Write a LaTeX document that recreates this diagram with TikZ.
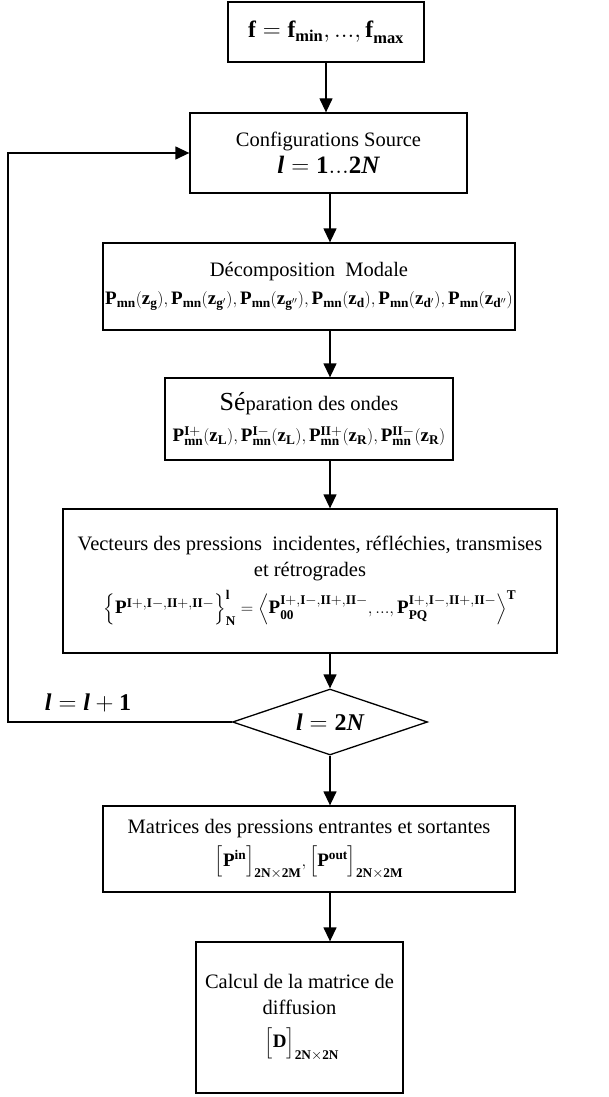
\documentclass[tikz,border=0pt]{standalone}
\usepackage{amsmath}
\usepackage{fontspec}
\setmainfont{Liberation Serif}
\setmathrm{Liberation Serif}
\usetikzlibrary{arrows.meta,shapes.geometric}
\newcommand\bi[1]{\text{\bfseries\itshape #1}}
\newcommand\mth{\fontsize{19}{23}\selectfont}
\begin{document}
\begin{tikzpicture}[x=1pt,y=-1pt,
  box/.style={draw, line width=1.3pt, align=center, inner sep=0pt, font=\fontsize{20.5}{26}\selectfont},
  arr/.style={line width=1.3pt, -{Triangle[length=14pt,width=13pt]}},
  bigmath/.style={font=\fontsize{24}{26}\selectfont}]
\path[use as bounding box] (0,0) rectangle (608,1097);

\node[box, minimum width=196pt, minimum height=60pt, font=\fontsize{23.5}{26}\selectfont] (b1) at (326,32)
  {$\mathbf{f}=\mathbf{f}_{\mathbf{min}}\mathbf{,...,f}_{\mathbf{max}}$};

\node[box, minimum width=277pt, minimum height=80pt] (b2) at (328.5,153)
  {Configurations Source\\[1pt]
   {\fontsize{25}{26}\selectfont $\bi{l} = \mathbf{1...2}\bi{N}$}};

\node[box, minimum width=412pt, minimum height=87pt] (b3) at (309,286.5)
  {D\'ecomposition\ \ Modale\\[2pt]
   {\mth$\mathbf{P_{mn}(z_g),P_{mn}(z_{g'}),P_{mn}(z_{g''}),P_{mn}(z_d),P_{mn}(z_{d'}),P_{mn}(z_{d''})}$}};

\node[box, minimum width=288pt, minimum height=82pt] (b4) at (309,419)
  {{\fontsize{26}{26}\selectfont S\'e}paration des ondes\\[5pt]
   {\mth$\mathbf{P^{I+}_{mn}(z_L),P^{I-}_{mn}(z_L),P^{II+}_{mn}(z_R),P^{II-}_{mn}(z_R)}$}};

\node[box, minimum width=494pt, minimum height=144pt] (b5) at (310,581)
  {Vecteurs des pressions\ \ incidentes, r\'efl\'echies, transmises\\
   et r\'etrogrades\\[8pt]
   {\mth$\Big\{\mathbf{P^{I+,I-,II+,II-}}\Big\}^{\mathbf{l}}_{\mathbf{N}}
    =\Big\langle\mathbf{P^{I+,I-,II+,II-}_{00},...,P^{I+,I-,II+,II-}_{PQ}}\Big\rangle^{\mathbf{T}}$}};

\node[draw, diamond, line width=1.3pt, aspect=3, inner sep=0pt,
      minimum width=195pt, minimum height=66pt, bigmath] (dia) at (330,722)
  {$\bi{l} = \mathbf{2}\bi{N}$};

\node[box, minimum width=412pt, minimum height=86pt] (b6) at (309,849)
  {Matrices des pressions entrantes et sortantes\\[7pt]
   {\mth$\Big[\mathbf{P^{in}}\Big]_{\mathbf{2N\times 2M}},\Big[\mathbf{P^{out}}\Big]_{\mathbf{2N\times 2M}}$}};

\node[box, minimum width=207pt, minimum height=151pt] (b7) at (299.5,1017.5)
  {Calcul de la matrice de\\ diffusion\\[7pt]
   {\mth$\;\Big[\mathbf{D}\Big]_{\mathbf{2N\times 2N}}$}};

\node[bigmath] (lbl) at (88,703) {$\bi{l} = \bi{l} + \mathbf{1}$};

\coordinate (lp) at (8,153);

\draw[arr] (b1.south) -- (b1.south |- b2.north);
\draw[arr] (dia.north |- b2.south) -- (dia.north |- b3.north);
\draw[arr] (dia.north |- b3.south) -- (dia.north |- b4.north);
\draw[arr] (dia.north |- b4.south) -- (dia.north |- b5.north);
\draw[arr] (dia.north |- b5.south) -- (dia.north);
\draw[arr] (dia.south) -- (dia.south |- b6.north);
\draw[arr] (dia.south |- b6.south) -- (dia.south |- b7.north);
\draw[arr] (dia.west) -| (lp) -- (b2.west);
\end{tikzpicture}
\end{document}
